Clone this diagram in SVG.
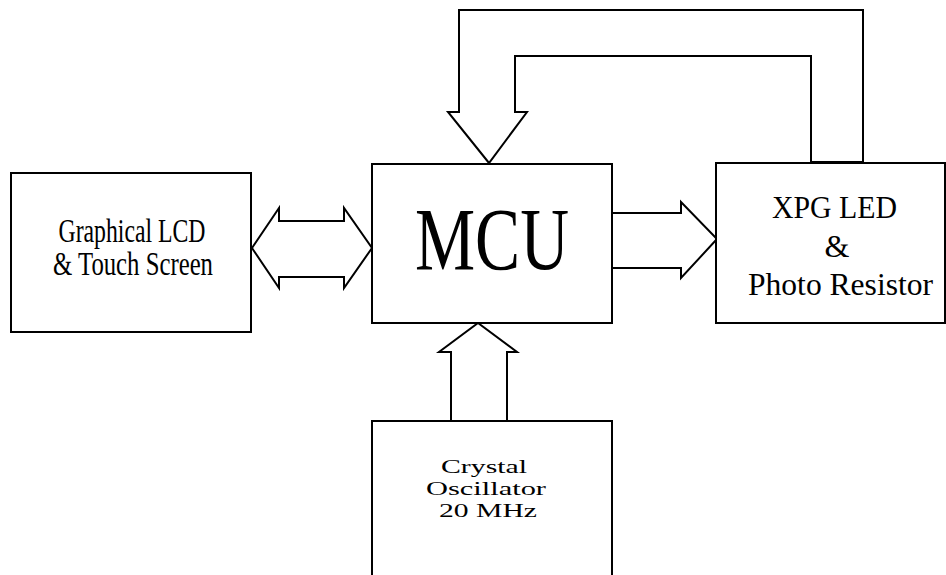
<svg xmlns="http://www.w3.org/2000/svg" width="946" height="575" viewBox="0 0 946 575">
<style>
.box{fill:#fff;stroke:#000;stroke-width:2}
.conn{fill:#fff;stroke:#000;stroke-width:2;stroke-linejoin:miter}
text{font-family:"Liberation Serif","Times New Roman",serif;fill:#000;text-anchor:middle}
</style>
<rect width="946" height="575" fill="#fff"/>
<g id="connectors">
<polygon class="conn" points="811,162 811,56 515,56 515,112 527,112 489,163 448,112 459,112 459,10 863,10 863,162"/>
<polygon class="conn" points="252,248 279,208 279,221 344,221 344,208 372,248 344,288 344,277 279,277 279,288"/>
<polyline class="conn" points="612,213 681,213 681,202 717,239 681,278 681,268 612,268"/>
<polyline class="conn" points="451,421 451,352 439,352 478,323 517,352 507,352 507,421"/>
</g>
<g id="lcd">
<rect class="box" x="11" y="173" width="240" height="159"/>
<text x="132" y="242" font-size="33" textLength="147" lengthAdjust="spacingAndGlyphs">Graphical LCD</text>
<text x="133" y="275" font-size="33" textLength="160" lengthAdjust="spacingAndGlyphs">&amp; Touch Screen</text>
</g>
<g id="mcu">
<rect class="box" x="372" y="164" width="240" height="159"/>
<text x="492" y="269" font-size="89" textLength="154" lengthAdjust="spacingAndGlyphs">MCU</text>
</g>
<g id="xpg">
<rect class="box" x="716" y="163" width="229" height="160"/>
<text x="834.5" y="218" font-size="32" textLength="125" lengthAdjust="spacingAndGlyphs">XPG LED</text>
<text x="837" y="257" font-size="32">&amp;</text>
<text x="840.5" y="295" font-size="32" textLength="185" lengthAdjust="spacingAndGlyphs">Photo Resistor</text>
</g>
<g id="crystal">
<rect class="box" x="372" y="421" width="240" height="200"/>
<text x="484" y="473" font-size="18" textLength="86" lengthAdjust="spacingAndGlyphs">Crystal</text>
<text x="486" y="495" font-size="18" textLength="120" lengthAdjust="spacingAndGlyphs">Oscillator</text>
<text x="488" y="517" font-size="18" textLength="98" lengthAdjust="spacingAndGlyphs">20 MHz</text>
</g>
</svg>
